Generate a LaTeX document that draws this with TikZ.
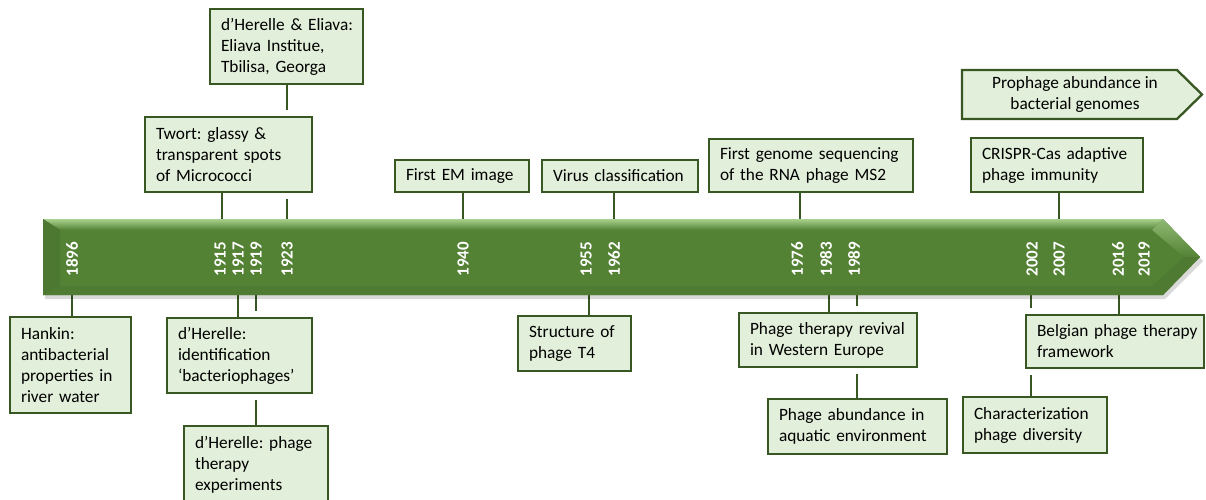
\documentclass[tikz,border=0pt]{standalone}
\usepackage{fontspec}
\setmainfont{Carlito}
\definecolor{arrowgreen}{HTML}{548235}
\definecolor{arrowlight}{HTML}{A9D18E}
\definecolor{arrowdark}{HTML}{4A7530}
\definecolor{boxfill}{HTML}{E2EFDA}
\definecolor{boxborder}{HTML}{385723}
\pgfdeclarelayer{bg}
\pgfdeclarelayer{halo}
\pgfdeclarelayer{mid}
\pgfsetlayers{bg,halo,mid,main}
\newcommand\nohyphens{\hyphenpenalty=10000 \exhyphenpenalty=10000 \relax}
\tikzset{
  tbox/.style={draw=boxborder, fill=boxfill, line width=2.3pt, inner xsep=11pt, inner ysep=0pt,
    align=left, text=black, font=\fontsize{17.3}{21}\selectfont, execute at begin node=\nohyphens},
  tlabel/.style={text=black, align=center, inner sep=0pt, font=\fontsize{17.3}{21}\selectfont},
  conn/.style={draw=boxborder, line width=2pt},
  halo/.style={draw=white, line width=12pt},
  year/.style={text=white, rotate=90, inner sep=0pt, font=\bfseries\fontsize{17}{17}\selectfont}
}
\newcommand\tlbox[6]{%
  \pgfmathsetmacro\bxw{#4-#2-22}%
  \pgfmathsetmacro\bxh{#5-#3}%
  \pgfmathsetmacro\bxcx{(#2+#4)/2}%
  \pgfmathsetmacro\bxcy{(#3+#5)/2}%
  \node[tbox, text width=\bxw pt, minimum height=\bxh pt] (#1) at (\bxcx,\bxcy) {#6};}
\begin{document}
\begin{tikzpicture}[x=1pt,y=-1pt]
\useasboundingbox (0,0) rectangle (1206,499);
% timeline arrow
\fill[black, opacity=0.15] (45,222) -- (1165,222) -- (1203,261) -- (1165,299) -- (45,299) -- cycle;
\fill[arrowgreen] (43,219) -- (1163,219) -- (1200,257) -- (1163,295) -- (43,295) -- cycle;
\shade[top color=arrowlight, bottom color=arrowgreen] (43,219) -- (1163,219) -- (1152,230) -- (60,230) -- cycle;
\shade[top color=arrowlight!70!arrowgreen, bottom color=arrowgreen] (1163,219) -- (1200,257) -- (1184,257) -- (1152,230) -- cycle;
\fill[arrowdark!60!arrowgreen] (1200,257) -- (1163,295) -- (1152,286) -- (1184,257) -- cycle;
\fill[arrowdark!50!arrowgreen] (43,295) -- (1163,295) -- (1152,286) -- (60,286) -- cycle;
\fill[arrowdark!80!arrowgreen] (43,219) -- (60,230) -- (60,286) -- (43,295) -- cycle;
% years
\foreach \yr/\xx/\lx in {1896/72/72, 1915/220/222, 1917/238/238, 1919/256/256, 1923/287/287,
  1940/463/463, 1955/586/589, 1962/614/614, 1976/797/800, 1983/826/829, 1989/854/857,
  2002/1032/1031, 2007/1059/1059, 2016/1118/1119, 2019/1144/1144}{
  \node[year] (y\yr) at (\xx,259) {\yr};
  \coordinate (u\yr) at (\lx,219);
  \coordinate (d\yr) at (\lx,295);
}
% boxes above
\tlbox{eliava}{210}{9}{363}{84}{d’Herelle~\&~Eliava:\\Eliava~Institue,\\Tbilisa,~Georga}
\tlbox{twort}{145}{117}{312}{192}{Twort:~glassy~\&\\transparent~spots\\of~Micrococci}
\tlbox{em}{395}{160}{529}{192}{First~EM~image}
\tlbox{virus}{542}{160}{698}{192}{Virus~classification}
\tlbox{genome}{709}{139}{913}{192}{First~genome~sequencing\\of~the~RNA~phage~MS2}
\tlbox{crispr}{971}{138}{1143}{192}{CRISPR-Cas~adaptive\\phage~immunity}
\draw[draw=boxborder, fill=boxfill, line width=2.3pt] (962,70) -- (1177,70) -- (1202,94.5) -- (1177,119) -- (962,119) -- cycle;
\node[tlabel] (prophage) at (1075,94.5) {Prophage abundance in\\bacterial genomes};
% boxes below
\tlbox{hankin}{10}{317}{131}{413}{Hankin:\\antibacterial\\properties~in\\river~water}
\tlbox{ident}{167}{318}{312}{393}{d’Herelle:\\identification\\‘bacteriophages’}
\tlbox{therapy}{184}{426}{328}{503}{d’Herelle:~phage\\therapy\\experiments}
\tlbox{t4}{518}{316}{631}{371}{Structure~of\\phage~T4}
\tlbox{revival}{739}{313}{917}{367}{Phage~therapy~revival\\in~Western~Europe}
\tlbox{abund}{768}{399}{947}{454}{Phage~abundance~in\\aquatic~environment}
\tlbox{belgian}{1026}{315}{1204}{368}{Belgian~phage~therapy\\framework}
\tlbox{charact}{963}{397}{1107}{453}{Characterization\\phage~diversity}
% connectors passing behind boxes
\begin{pgfonlayer}{bg}
\draw[conn] (eliava.south -| u1923) -- (u1923);
\draw[conn] (therapy.north -| d1919) -- (d1919);
\draw[conn] (abund.north -| d1989) -- (d1989);
\draw[conn] (charact.north -| d2002) -- (d2002);
\end{pgfonlayer}
\begin{pgfonlayer}{halo}
\draw[halo] (twort.north west) rectangle (twort.south east);
\draw[halo] (ident.north west) rectangle (ident.south east);
\draw[halo] (revival.north west) rectangle (revival.south east);
\draw[halo] (belgian.north west) rectangle (belgian.south east);
\end{pgfonlayer}
% direct connectors
\begin{pgfonlayer}{mid}
\draw[conn] (twort.south -| u1915) -- (u1915);
\draw[conn] (em.south -| u1940) -- (u1940);
\draw[conn] (virus.south -| u1962) -- (u1962);
\draw[conn] (genome.south -| u1976) -- (u1976);
\draw[conn] (crispr.south -| u2007) -- (u2007);
\draw[conn] (hankin.north -| d1896) -- (d1896);
\draw[conn] (ident.north -| d1917) -- (d1917);
\draw[conn] (t4.north -| d1955) -- (d1955);
\draw[conn] (revival.north -| d1983) -- (d1983);
\draw[conn] (belgian.north -| d2016) -- (d2016);
\end{pgfonlayer}
\end{tikzpicture}
\end{document}
